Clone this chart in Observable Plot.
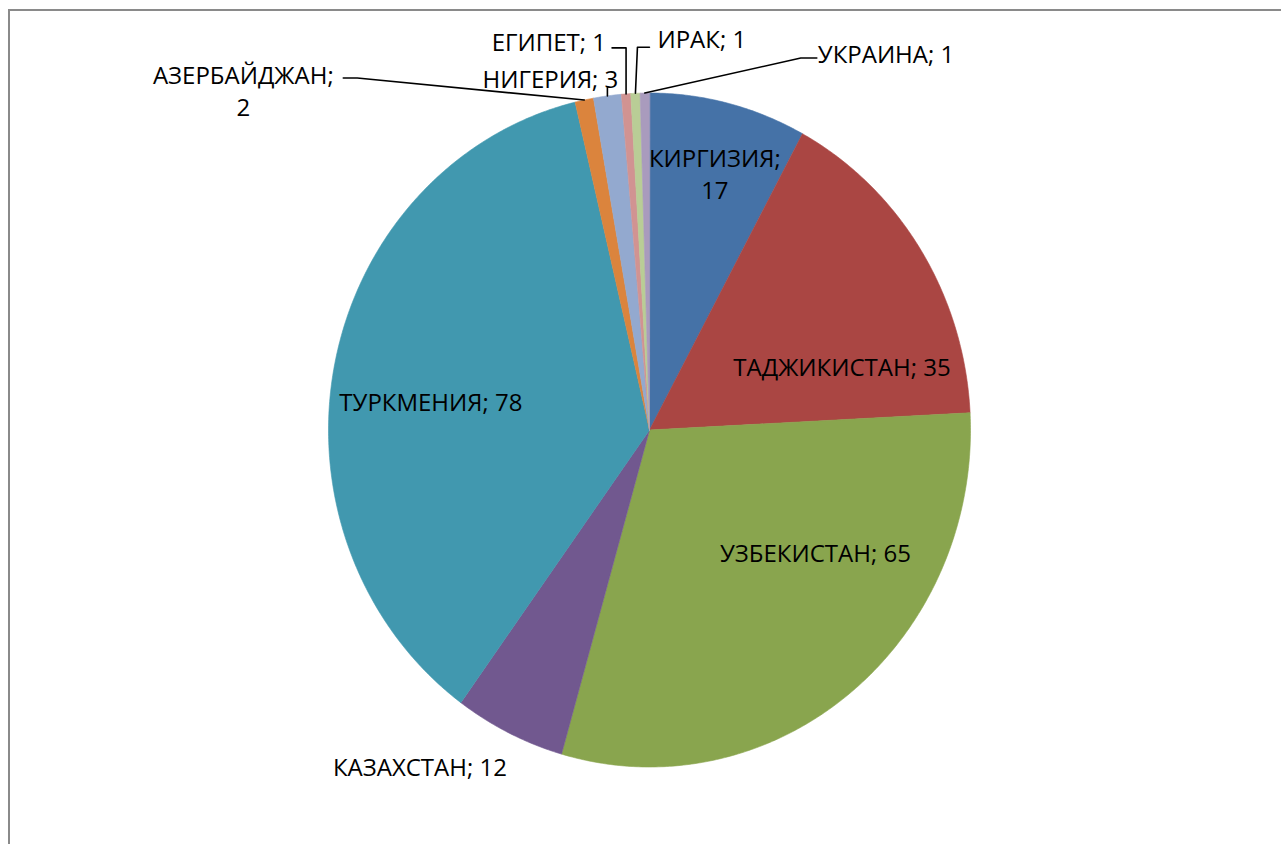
<!DOCTYPE html>
<html><head><meta charset="utf-8">
<script src="https://cdn.jsdelivr.net/npm/d3@7"></script>
<script src="https://cdn.jsdelivr.net/npm/@observablehq/plot@0.6"></script>
<style>
html,body{margin:0;padding:0;background:#fff;overflow:hidden}
#wrap{position:relative;width:1281px;height:844px;overflow:hidden}
#frame{position:absolute;left:8px;top:9px;width:1300px;height:900px;border-left:2px solid #8a8a8a;border-top:2px solid #8a8a8a;pointer-events:none}
#chart{position:absolute;left:0;top:0}
</style></head><body><div id="wrap"><div id="chart"></div><div id="frame"></div></div>
<script>
// ---- data ----
const countries = ["КИРГИЗИЯ","ТАДЖИКИСТАН","УЗБЕКИСТАН","КАЗАХСТАН","ТУРКМЕНИЯ","АЗЕРБАЙДЖАН","НИГЕРИЯ","ЕГИПЕТ","ИРАК","УКРАИНА"];
const values = [17,35,65,12,78,2,3,1,1,1];
const colors = ["#4572A7","#AA4643","#89A54E","#71588F","#4198AF","#DB843D","#93A9CF","#D19392","#B9CD96","#A99BBD"];

// ---- label layout (anchor radius on slice mid-angle, pixel nudges, leader offsets in px) ----
const labelLayout = [
  {r:0.79, dx:3,   dy:1,   anchor:"middle", wrap:true},
  {r:0.65, dx:16,  dy:53,  anchor:"middle"},
  {r:0.65, dx:36,  dy:-49, anchor:"middle"},
  {r:1.2,  dx:-61, dy:-28, anchor:"middle"},
  {r:0.65, dx:-14, dy:14,  anchor:"middle"},
  {r:1, dx:-341, dy:-10, anchor:"middle", wrap:true, leader:[[0,0],[-227,-22],[-241,-22]]},
  {r:1, dx:-57,  dy:-18, anchor:"middle", leader:[[0,0],[0,-8]]},
  {r:1, dx:-20,  dy:-53, anchor:"end",    leader:[[0,0],[0,-46],[-14,-46]]},
  {r:1, dx:22,   dy:-55, anchor:"start",  leader:[[0,0],[2,-46],[14,-46]]},
  {r:1, dx:173,  dy:-40, anchor:"start",  leader:[[0,0],[156,-35],[172,-35]]}
];

// ---- geometry ----
const W = 1281, H = 844;
const CX = 649, CY = 429.5, RX = 321, RY = 337;
const pie = d3.pie().sort(null).startAngle(0).endAngle(2*Math.PI)(values);

const slices = [];
pie.forEach((p, i) => {
  const name = countries[i];
  slices.push({name, x: 0, y: 0});
  const n = Math.max(4, Math.ceil((p.endAngle - p.startAngle) / (Math.PI/360)));
  for (let k = 0; k <= n; k++) {
    const a = p.startAngle + (p.endAngle - p.startAngle) * k / n;
    slices.push({name, x: Math.sin(a), y: Math.cos(a)});
  }
});

const marks = [
  Plot.line(slices, {x: "x", y: "y", z: "name", fill: "name", stroke: "name", strokeWidth: 0.6, curve: "linear-closed"})
];

const FONT = 24;
pie.forEach((p, i) => {
  const L = labelLayout[i];
  const mid = (p.startAngle + p.endAngle) / 2;
  const ax = L.r * Math.sin(mid), ay = L.r * Math.cos(mid);
  const txt = countries[i] + ";" + (L.wrap ? "\n" : " ") + values[i];
  marks.push(Plot.text([0], {
    x: () => ax, y: () => ay, text: () => txt,
    dx: L.dx, dy: L.dy, textAnchor: L.anchor, lineAnchor: "middle",
    lineHeight: 1.3, fontSize: FONT, fill: "#000"
  }));
  if (L.leader) {
    const rx = Math.sin(mid), ry = Math.cos(mid);
    const pts = L.leader.map(([px, py]) => ({x: rx + px / RX, y: ry - py / RY}));
    marks.push(Plot.line(pts, {x: "x", y: "y", stroke: "#000", strokeWidth: 1.6}));
  }
});

const chart = Plot.plot({
  width: W, height: H,
  margin: 0,
  x: {domain: [-1, 1], range: [CX - RX, CX + RX], axis: null},
  y: {domain: [-1, 1], range: [CY + RY, CY - RY], axis: null},
  color: {domain: countries, range: colors},
  style: {fontFamily: "'Open Sans', 'DejaVu Sans', sans-serif", background: "transparent", overflow: "visible"},
  marks
});
document.getElementById("chart").appendChild(chart);
</script>
</body></html>
